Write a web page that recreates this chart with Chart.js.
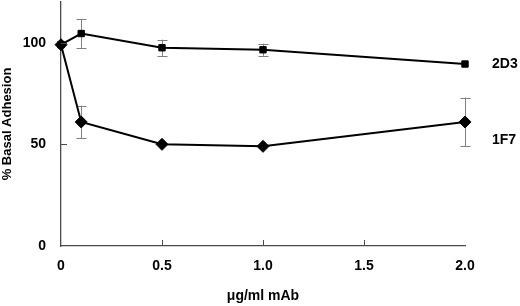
<!DOCTYPE html>
<html>
<head>
<meta charset="utf-8">
<script src="https://cdn.jsdelivr.net/npm/chart.js@4.4.1/dist/chart.umd.min.js"></script>
<style>
  html, body { margin: 0; padding: 0; background: #ffffff; }
  #wrap { width: 520px; height: 306px; position: relative; }
</style>
</head>
<body>
<div id="wrap"><canvas id="c" width="520" height="306"></canvas></div>
<script>
// ---- data ----
const doses = [0, 0.1, 0.5, 1.0, 2.0];
const series2D3 = [99, 104.5, 97.5, 96.5, 89.5];
const err2D3 = [0, 7, 4, 3, 0];
const series1F7 = [99, 61, 50, 49, 61];
const err1F7 = [0, 8, 0, 0, 12];
const seriesNames = ["2D3", "1F7"];
const seriesLabelValues = [89.5, 52];
const xTickValues = [0, 0.5, 1.0, 1.5, 2.0];
const xTickLabels = ["0", "0.5", "1.0", "1.5", "2.0"];
const yTickValues = [0, 50, 100];
const yTickLabels = ["0", "50", "100"];
const xTitle = "\u03bcg/ml mAb";
const yTitle = "% Basal Adhesion";

const FONT = "'Liberation Sans', Arial, Helvetica, sans-serif";
const AXIS_COLOR = "#4a4a4a";

function pts(ys) { return doses.map((d, i) => ({ x: d, y: ys[i] })); }

const errorBars = {
  id: 'errorBars',
  beforeDatasetsDraw(chart) {
    const ctx = chart.ctx;
    const xs = chart.scales.x, ys = chart.scales.y;
    const sets = [[series2D3, err2D3], [series1F7, err1F7]];
    ctx.save();
    ctx.strokeStyle = '#808080';
    ctx.lineWidth = 1;
    sets.forEach(([vals, errs]) => {
      vals.forEach((v, i) => {
        if (!errs[i]) return;
        const px = Math.round(xs.getPixelForValue(doses[i])) + 0.5;
        const top = ys.getPixelForValue(v + errs[i]);
        const bot = ys.getPixelForValue(v - errs[i]);
        ctx.beginPath();
        ctx.moveTo(px, top); ctx.lineTo(px, bot);
        ctx.moveTo(px - 5, Math.round(top) + 0.5); ctx.lineTo(px + 5, Math.round(top) + 0.5);
        ctx.moveTo(px - 5, Math.round(bot) + 0.5); ctx.lineTo(px + 5, Math.round(bot) + 0.5);
        ctx.stroke();
      });
    });
    ctx.restore();
  },
  afterDraw(chart) {
    const ctx = chart.ctx;
    const xs = chart.scales.x, ys = chart.scales.y;
    const area = chart.chartArea;
    ctx.save();
    ctx.strokeStyle = AXIS_COLOR;
    ctx.lineWidth = 1;
    ctx.beginPath();
    xTickValues.slice(1, -1).forEach(v => {
      const px = Math.round(xs.getPixelForValue(v)) + 0.5;
      ctx.moveTo(px, area.bottom); ctx.lineTo(px, area.bottom - 6);
    });
    yTickValues.slice(1).forEach(v => {
      const py = Math.round(ys.getPixelForValue(v)) + 0.5;
      ctx.moveTo(area.left, py); ctx.lineTo(area.left + 6, py);
    });
    ctx.stroke();
    ctx.fillStyle = '#000';
    ctx.font = "bold 14px " + FONT;
    ctx.textAlign = 'left';
    ctx.textBaseline = 'middle';
    seriesNames.forEach((n, i) => {
      ctx.fillText(n, area.right + 27, ys.getPixelForValue(seriesLabelValues[i]));
    });
    ctx.restore();
  }
};

new Chart(document.getElementById('c'), {
  type: 'line',
  data: {
    datasets: [
      {
        label: seriesNames[0],
        data: pts(series2D3),
        borderColor: '#000',
        backgroundColor: '#000',
        borderWidth: 2,
        pointStyle: 'rect',
        pointRadius: 4.5,
        pointBorderWidth: 1,
        pointBackgroundColor: '#000',
        pointBorderColor: '#000',
        tension: 0,
        order: 2
      },
      {
        label: seriesNames[1],
        data: pts(series1F7),
        borderColor: '#000',
        backgroundColor: '#000',
        borderWidth: 2,
        pointStyle: 'rectRot',
        pointRadius: 6,
        pointBorderWidth: 1,
        pointBackgroundColor: '#000',
        pointBorderColor: '#000',
        tension: 0,
        order: 1
      }
    ]
  },
  options: {
    responsive: false,
    animation: false,
    clip: false,
    layout: { autoPadding: false, padding: { left: 0, right: 55, top: 2, bottom: 0 } },
    plugins: { legend: { display: false }, tooltip: { enabled: false } },
    scales: {
      x: {
        type: 'linear',
        min: 0, max: 2,
        afterFit(s) { s.height = 60; s.paddingLeft = 0; s.paddingRight = 0; },
        afterBuildTicks(s) { s.ticks = xTickValues.map(v => ({ value: v })); },
        ticks: {
          color: '#000',
          font: { family: FONT, size: 14, weight: 'bold' },
          padding: 12,
          maxRotation: 0,
          callback: (v, i) => xTickLabels[i]
        },
        grid: { display: true, drawOnChartArea: false, drawTicks: false },
        border: { display: true, color: AXIS_COLOR, width: 1.3 },
        title: {
          display: true, text: xTitle, color: '#000',
          font: { family: FONT, size: 14, weight: 'bold' },
          padding: { top: 0, bottom: 1 }
        }
      },
      y: {
        type: 'linear',
        min: 0, max: 120,
        afterFit(s) { s.width = 61; s.paddingTop = 0; s.paddingBottom = 0; },
        afterBuildTicks(s) { s.ticks = yTickValues.map(v => ({ value: v })); },
        ticks: {
          color: '#000',
          font: { family: FONT, size: 14, weight: 'bold' },
          padding: 15,
          callback: (v, i) => yTickLabels[i]
        },
        grid: { display: true, drawOnChartArea: false, drawTicks: false },
        border: { display: true, color: AXIS_COLOR, width: 1.3 },
        title: {
          display: true, text: yTitle, color: '#000',
          font: { family: FONT, size: 13, weight: 'bold' },
          padding: { top: 0, bottom: 0 }
        }
      }
    }
  },
  plugins: [errorBars]
});
</script>
</body>
</html>
